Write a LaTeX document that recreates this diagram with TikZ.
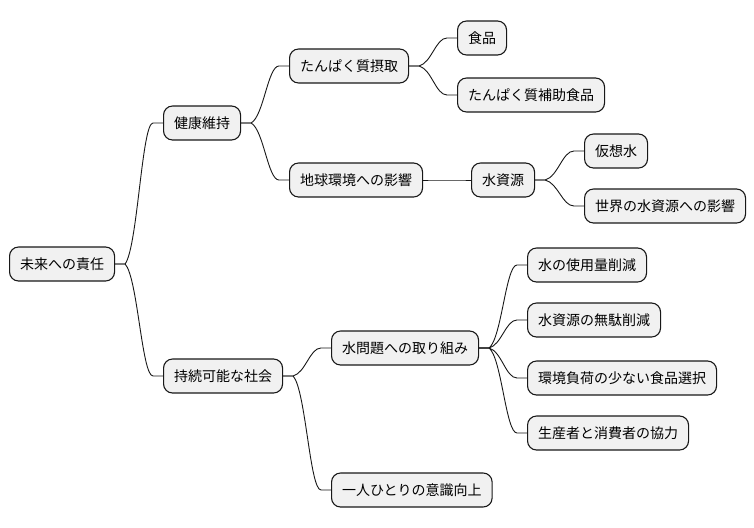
\documentclass[tikz,border=0pt]{standalone}
\usepackage{fontspec}
\setmainfont{Noto Sans CJK JP}
\usetikzlibrary{calc}
\definecolor{nodefill}{HTML}{F1F1F1}
\definecolor{nodeline}{HTML}{181818}
\tikzset{
  mm/.style={draw=nodeline, fill=nodefill, line width=1.1pt, rounded corners=9pt,
    minimum height=34pt, inner xsep=10.5pt, inner ysep=0pt, anchor=west,
    font=\fontsize{14}{16}\selectfont, text=black},
  link/.style={draw=nodeline, line width=0.9pt}
}
\newcommand\mmlink[2]{%
  \draw[link] let \p1=(#1.east), \p2=(#2.west) in
    (#1.east) -- ++(10pt,0)
    .. controls ({\x1+10pt+0.45*(\x2-\x1-20pt)},{\y1+0.12*(\y2-\y1)})
       and ({\x2-10pt-0.4*(\x2-\x1-20pt)},{\y2})
    .. ({\x2-10pt},{\y2}) -- (#2.west);}
\begin{document}
\begin{tikzpicture}[x=1pt,y=-1pt]
\useasboundingbox (0,0) rectangle (754,527);
\node[mm] (root) at (9,264) {未来への責任};
\node[mm] (k1) at (163,123) {健康維持};
\node[mm] (k2) at (163,376) {持続可能な社会};
\node[mm] (a1) at (289,66) {たんぱく質摂取};
\node[mm] (a2) at (289,180) {地球環境への影響};
\node[mm] (b1) at (457,38) {食品};
\node[mm] (b2) at (457,95) {たんぱく質補助食品};
\node[mm] (c1) at (471,180) {水資源};
\node[mm] (d1) at (584,151) {仮想水};
\node[mm] (d2) at (584,206) {世界の水資源への影響};
\node[mm] (e1) at (331,348) {水問題への取り組み};
\node[mm] (e2) at (331,490) {一人ひとりの意識向上};
\node[mm] (f1) at (527,265) {水の使用量削減};
\node[mm] (f2) at (527,320) {水資源の無駄削減};
\node[mm] (f3) at (527,378) {環境負荷の少ない食品選択};
\node[mm] (f4) at (527,433) {生産者と消費者の協力};
\mmlink{root}{k1}
\mmlink{root}{k2}
\mmlink{k1}{a1}
\mmlink{k1}{a2}
\mmlink{a1}{b1}
\mmlink{a1}{b2}
\mmlink{a2}{c1}
\mmlink{c1}{d1}
\mmlink{c1}{d2}
\mmlink{k2}{e1}
\mmlink{k2}{e2}
\mmlink{e1}{f1}
\mmlink{e1}{f2}
\mmlink{e1}{f3}
\mmlink{e1}{f4}
\end{tikzpicture}
\end{document}
